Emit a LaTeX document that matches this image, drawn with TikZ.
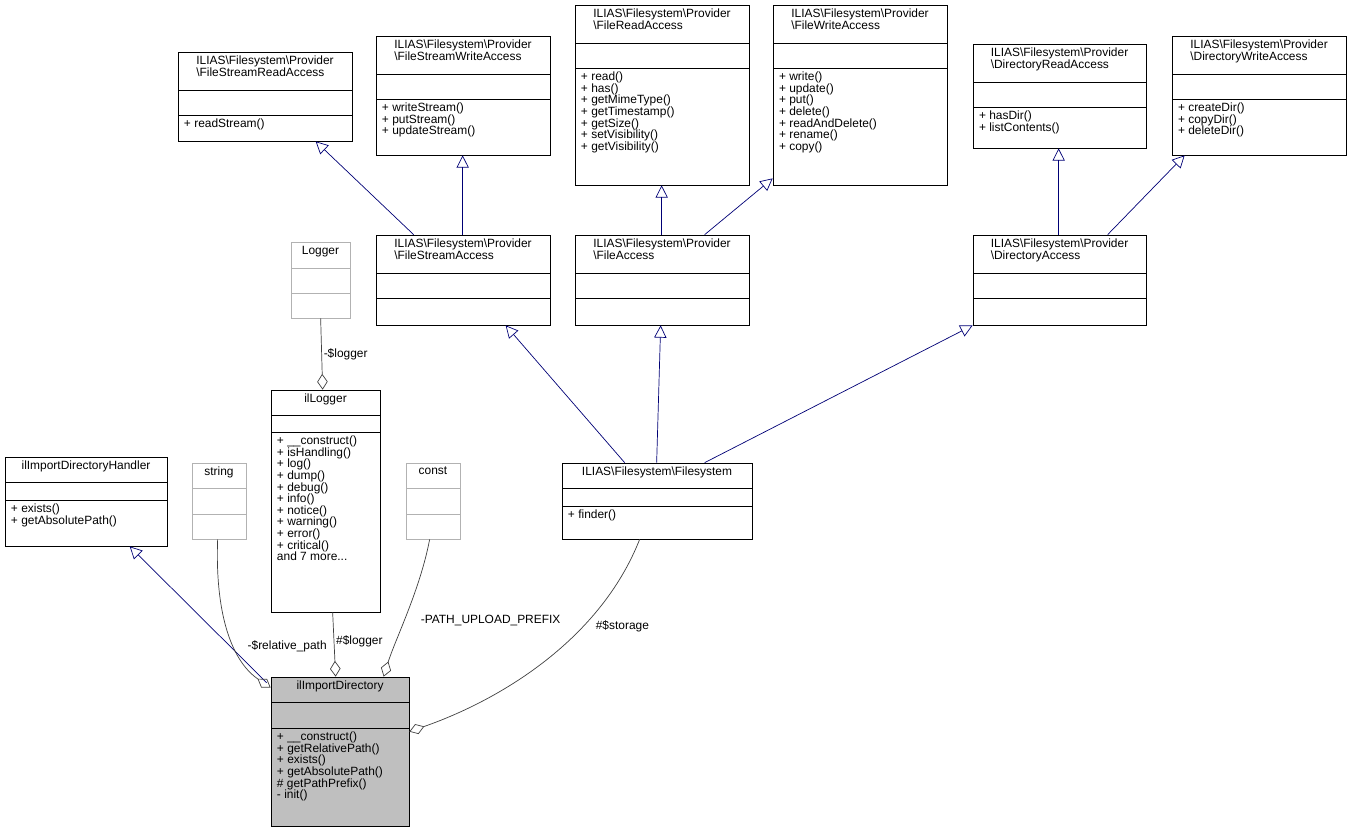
\documentclass[tikz,border=0pt]{standalone}
\usepackage{fontspec}
\setmainfont{Liberation Sans}
\usetikzlibrary{arrows.meta,fit,calc}
\newcommand\boxcol{black}
\newcommand\boxfill{white}
\newcommand\umlbox[9]{%
 \path (#2,#3) coordinate (#1-nw) (#4,#5) coordinate (#1-se);
 \node[fit=(#1-nw)(#1-se),inner sep=0,draw=\boxcol,fill=\boxfill] (#1) {};
 \draw[\boxcol] (#2,#6) -- (#4,#6) (#2,#7) -- (#4,#7);
 \node[txt,anchor=north] at ({(#2+#4)/2},#3+1) {#8};
 \node[txt,anchor=north west] at (#2+3,#7+1) {#9};
}
\begin{document}
\begin{tikzpicture}[x=0.02cm,y=-0.02cm,
 txt/.style={font=\fontsize{6.8}{6.6}\selectfont,align=left,inner sep=1.5pt},
 inh/.style={draw=blue!40!black!90!blue,-{Triangle[open,length=7pt,width=7pt]}},
 agg/.style={draw=black!75,-{Diamond[open,length=9pt,width=6pt]}},
 lbl/.style={font=\fontsize{6.8}{6.6}\selectfont,inner sep=1pt}]
\useasboundingbox (0,0) rectangle (1351,832);
\umlbox{hand}{5}{457}{167}{546}{482}{500}{ilImportDirectoryHandler}{+ exists()\\+ getAbsolutePath()}
\renewcommand\boxcol{black!30}
\umlbox{str}{192}{463}{246}{539}{488}{514}{string}{}
\umlbox{cst}{406}{463}{460}{539}{488}{514}{const}{}
\umlbox{lg}{291}{242}{350}{318}{268}{293}{Logger}{}
\renewcommand\boxcol{black}
\umlbox{ilg}{271}{390}{380}{612}{415}{432}{ilLogger}{+ \_\_construct()\\+ isHandling()\\+ log()\\+ dump()\\+ debug()\\+ info()\\+ notice()\\+ warning()\\+ error()\\+ critical()\\and 7 more...}
\umlbox{fs}{562}{463}{752}{539}{488}{506}{ILIAS\textbackslash Filesystem\textbackslash Filesystem}{+ finder()}
\umlbox{fsa}{376}{235}{550}{325}{273}{298}{ILIAS\textbackslash Filesystem\textbackslash Provider\\\textbackslash FileStreamAccess}{}
\umlbox{fa}{575}{235}{749}{325}{273}{298}{ILIAS\textbackslash Filesystem\textbackslash Provider\\\textbackslash FileAccess}{}
\umlbox{da}{973}{235}{1146}{325}{273}{298}{ILIAS\textbackslash Filesystem\textbackslash Provider\\\textbackslash DirectoryAccess}{}
\umlbox{fsra}{178}{52}{352}{141}{90}{115}{ILIAS\textbackslash Filesystem\textbackslash Provider\\\textbackslash FileStreamReadAccess}{+ readStream()}
\umlbox{fswa}{376}{36}{550}{155}{74}{99}{ILIAS\textbackslash Filesystem\textbackslash Provider\\\textbackslash FileStreamWriteAccess}{+ writeStream()\\+ putStream()\\+ updateStream()}
\umlbox{fra}{575}{5}{749}{185}{43}{68}{ILIAS\textbackslash Filesystem\textbackslash Provider\\\textbackslash FileReadAccess}{+ read()\\+ has()\\+ getMimeType()\\+ getTimestamp()\\+ getSize()\\+ setVisibility()\\+ getVisibility()}
\umlbox{fwa}{773}{5}{947}{185}{43}{68}{ILIAS\textbackslash Filesystem\textbackslash Provider\\\textbackslash FileWriteAccess}{+ write()\\+ update()\\+ put()\\+ delete()\\+ readAndDelete()\\+ rename()\\+ copy()}
\umlbox{dra}{973}{44}{1146}{148}{82}{107}{ILIAS\textbackslash Filesystem\textbackslash Provider\\\textbackslash DirectoryReadAccess}{+ hasDir()\\+ listContents()}
\umlbox{dwa}{1172}{36}{1346}{155}{74}{99}{ILIAS\textbackslash Filesystem\textbackslash Provider\\\textbackslash DirectoryWriteAccess}{+ createDir()\\+ copyDir()\\+ deleteDir()}
\renewcommand\boxfill{black!25}
\umlbox{imp}{271}{677}{409}{826}{702}{728}{ilImportDirectory}{+ \_\_construct()\\+ getRelativePath()\\+ exists()\\+ getAbsolutePath()\\\# getPathPrefix()\\- init()}
% inheritance
\draw[inh] ($(fsa.north west)+(38,0)$) -- ($(fsra.south west)+(138,0)$);
\draw[inh] ($(fsa.north west)+(87,0)$) -- ($(fswa.south west)+(87,0)$);
\draw[inh] ($(fa.north west)+(87,0)$) -- ($(fra.south west)+(87,0)$);
\draw[inh] ($(fa.north west)+(130,0)$) -- ($(fwa.south west)+(0,-7)$);
\draw[inh] ($(da.north west)+(86,0)$) -- ($(dra.south west)+(86,0)$);
\draw[inh] ($(da.north west)+(135,0)$) -- ($(dwa.south west)+(13,0)$);
\draw[inh] ($(fs.north west)+(63,0)$) -- ($(fsa.south west)+(130,0)$);
\draw[inh] ($(fs.north west)+(95,0)$) -- ($(fa.south west)+(86,0)$);
\draw[inh] ($(fs.north west)+(143,0)$) -- ($(da.south west)+(0,0)$);
\draw[inh] ($(imp.north west)+(-4,6)$) -- ($(hand.south west)+(125,0)$);
% aggregation
\draw[agg] ($(lg.south west)+(30,0)$) -- node[lbl,right,pos=0.5]{-\$logger} ($(ilg.north west)+(52,0)$);
\draw[agg] ($(str.south west)+(26,0)$) .. controls (215,610) and (230,660) .. node[lbl,pos=0.62,right,xshift=6pt]{-\$relative\_path} ($(imp.north west)+(0,11)$);
\draw[agg] ($(ilg.south west)+(62,0)$) -- node[lbl,right,pos=0.45]{\#\$logger} ($(imp.north west)+(65,0)$);
\draw[agg] ($(cst.south west)+(24,0)$) .. controls (420,590) and (395,640) .. node[lbl,right,pos=0.55,xshift=8pt]{-PATH\_UPLOAD\_PREFIX} ($(imp.north west)+(113,0)$);
\draw[agg] ($(fs.south west)+(78,0)$) .. controls (600,640) and (500,700) .. node[lbl,pos=0.33,right,xshift=6pt]{\#\$storage} ($(imp.north east)+(0,55)$);
\end{tikzpicture}
\end{document}
